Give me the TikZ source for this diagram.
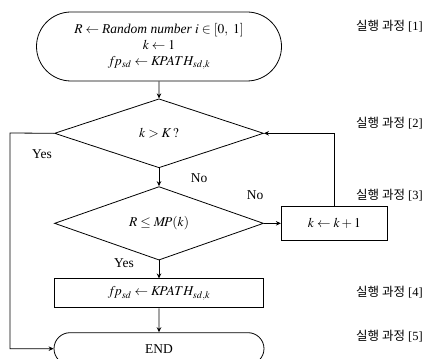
\documentclass[tikz,border=0pt]{standalone}
\usepackage{mathptmx}
\usepackage{fontspec}
\setmainfont{Liberation Serif}
\newfontfamily\krfont{Noto Sans CJK KR}
\usetikzlibrary{arrows.meta,positioning,shapes.geometric,shapes.misc}
\tikzset{
  terminal/.style={rounded rectangle,draw=black,line width=0.8pt,inner sep=0pt,
    font=\fontsize{13.5}{16}\selectfont,align=center},
  decision/.style={diamond,draw=black,line width=0.8pt,inner sep=0pt,
    minimum width=209pt,minimum height=69pt,font=\fontsize{13.5}{16}\selectfont},
  process/.style={rectangle,draw=black,line width=0.8pt,inner sep=0pt,
    font=\fontsize{13.5}{16}\selectfont,text centered},
  arrow/.style={-{Stealth[length=5pt,width=4.5pt]},line width=0.8pt},
  lbl/.style={font=\fontsize{13.5}{16}\selectfont,inner sep=0pt},
  phase/.style={font=\fontsize{12.5}{15}\selectfont,inner sep=0pt,anchor=west}
}

\begin{document}
\begin{tikzpicture}[x=1pt,y=-1pt]
  \useasboundingbox (0,0) rectangle (443,358);
  \node[terminal,minimum width=245pt,minimum height=69pt] (start) at (159,46.5)
    {$R \leftarrow \textit{Random number } i \in [0,\ 1]$\\[0pt]
     $k \leftarrow 1$\\[0pt]
     $f\!p_{sd} \leftarrow K\!PATH_{sd,k}$};
  \node[decision,below=17pt of start] (test) {$k > K\,?$};
  \node[decision,below=18pt of test] (cond) {$R \leq M\!P(k)$};
  \node[process,right=17pt of cond,minimum width=106pt,minimum height=34pt] (incr)
    {$k \leftarrow k + 1$};
  \node[process,below=18pt of cond,minimum width=209pt,minimum height=29pt] (assign)
    {$f\!p_{sd} \leftarrow K\!PATH_{sd,k}$};
  \node[terminal,below=24pt of assign,minimum width=210pt,minimum height=32pt] (end) {END};
  \coordinate (rail) at (10,133);

  % branch labels
  \node[lbl] (yes1) at (42,154) {Yes};
  \node[lbl] (no1) at (199,178) {No};
  \node[lbl] (no2) at (255,195) {No};
  \node[lbl] (yes2) at (124,263) {Yes};

  % phase labels
  \node[phase] (ph1) at (356,26) {{\krfont 실행 과정} [1]};
  \node[phase] (ph2) at (356,123) {{\krfont 실행 과정} [2]};
  \node[phase] (ph3) at (356,195) {{\krfont 실행 과정} [3]};
  \node[phase] (ph4) at (356,292) {{\krfont 실행 과정} [4]};
  \node[phase] (ph5) at (356,336) {{\krfont 실행 과정} [5]};

  \draw[arrow] (start) -- (test);
  \draw[arrow] (test) -- (cond);
  \draw[arrow] (cond.east) -- (incr.west);
  \draw[arrow] (incr.north) |- (test.east);
  \draw[arrow] (cond) -- (assign);
  \draw[arrow] (assign) -- (end);
  \draw[arrow] (test.west) -- (rail) |- (end.west);
\end{tikzpicture}
\end{document}
